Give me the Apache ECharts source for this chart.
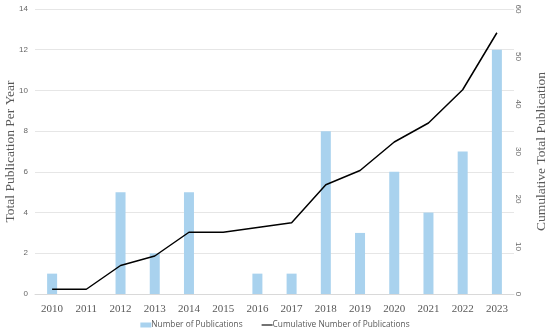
<!DOCTYPE html>
<html><head><meta charset="utf-8">
<script src="https://cdn.jsdelivr.net/npm/echarts@6/dist/echarts.min.js"></script>
<style>html,body{margin:0;padding:0;background:#fff}#c{width:550px;height:333px}</style>
</head><body><div id="c"></div>
<script>
const years = ['2010','2011','2012','2013','2014','2015','2016','2017','2018','2019','2020','2021','2022','2023'];
const publications = [1,0,5,2,5,0,1,1,8,3,6,4,7,12];
const cumulative = [1,1,6,8,13,13,14,15,23,26,32,36,43,55];
const leftTicks = {min:0,max:14,interval:2};
const rightTicks = {min:0,max:60,interval:10};

const chart = echarts.init(document.getElementById('c'));
chart.setOption({
  animation:false,
  grid:{left:35,right:36,top:9,bottom:39,containLabel:false,outerBoundsMode:'none'},
  legend:{
    bottom:-1, itemGap:19, itemWidth:11, itemHeight:5,
    textStyle:{fontFamily:'Open Sans',fontSize:8.3,color:'#595959',padding:[0,0,0,-5]},
    data:[{name:'Number of Publications',icon:'rect'},{name:'Cumulative Number of Publications',icon:'path://M0,0L20,0L20,2L0,2Z'}]
  },
  xAxis:{
    type:'category', data:years,
    axisLine:{lineStyle:{color:'#d9d9d9'}}, axisTick:{show:false},
    axisLabel:{fontFamily:'Liberation Serif',fontSize:11,color:'#595959',margin:10}
  },
  yAxis:[{
    type:'value', ...leftTicks,
    name:'Total Publication Per Year', nameLocation:'middle', nameGap:18, nameMoveOverlap:false,
    nameTextStyle:{fontFamily:'Liberation Serif',fontSize:13.5,color:'#595959'},
    axisLabel:{fontFamily:'Liberation Sans',fontSize:8,color:'#666',margin:7},
    splitLine:{lineStyle:{color:'#e6e6e6'}}
  },{
    type:'value', ...rightTicks,
    name:'Cumulative Total Publication', nameLocation:'middle', nameGap:20, nameRotate:90, nameMoveOverlap:false,
    nameTextStyle:{fontFamily:'Liberation Serif',fontSize:13.5,color:'#595959'},
    axisLabel:{fontFamily:'Liberation Sans',fontSize:8,color:'#666',rotate:-90,margin:0},
    splitLine:{show:false}
  }],
  series:[{
    name:'Number of Publications', type:'bar', data:publications, yAxisIndex:0,
    barWidth:10, itemStyle:{color:'#a9d2ee'}
  },{
    name:'Cumulative Number of Publications', type:'line', data:cumulative, yAxisIndex:1,
    symbol:'none', lineStyle:{color:'#000',width:1.5}, itemStyle:{color:'#000'}
  }]
});
</script></body></html>
